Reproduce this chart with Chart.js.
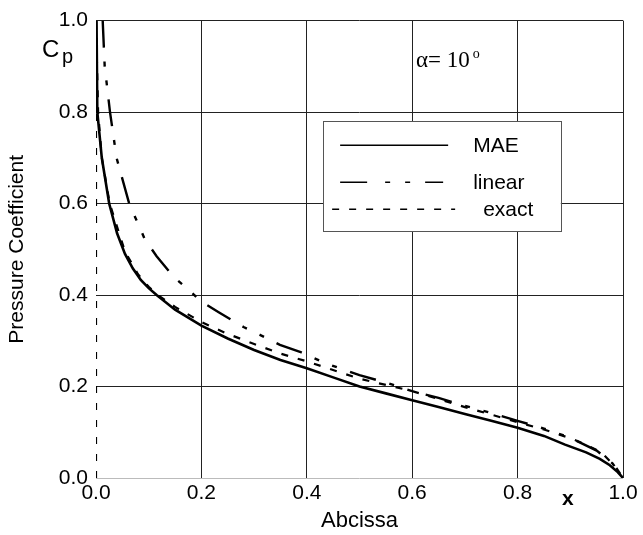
<!DOCTYPE html>
<html>
<head>
<meta charset="utf-8">
<script src="https://cdn.jsdelivr.net/npm/chart.js@4"></script>
<style>
html,body{margin:0;padding:0;background:#fff;}
#wrap{width:643px;height:535px;position:relative;}
</style>
</head>
<body>
<div id="wrap"><canvas id="c" width="643" height="535"></canvas></div>
<script>
// ---- data ----
const maeX = [0.001,0.0025,0.011,0.025,0.04,0.055,0.07,0.085,0.1,0.115,0.15,0.2,0.25,0.3,0.35,0.4,0.45,0.5,0.55,0.6,0.65,0.7,0.75,0.8,0.85,0.89,0.93,0.956,0.975,0.99,1.0];
const maeY = [1.0,0.8,0.7,0.6,0.535,0.49,0.458,0.433,0.415,0.4,0.368,0.333,0.305,0.28,0.258,0.24,0.22,0.2,0.185,0.17,0.155,0.14,0.125,0.11,0.092,0.073,0.056,0.042,0.028,0.013,0.0];

const linX = [0.0127,0.0165,0.0266,0.039,0.063,0.093,0.115,0.147,0.172,0.2,0.232,0.28,0.311,0.349,0.387,0.435,0.5,0.552,0.6,0.65,0.7,0.75,0.8,0.85,0.9,0.95,0.98,1.0];
const linY = [1.0,0.9,0.8,0.7,0.6,0.521,0.485,0.44,0.415,0.386,0.363,0.33,0.313,0.291,0.276,0.251,0.225,0.208,0.19,0.175,0.158,0.142,0.125,0.108,0.088,0.06,0.032,0.0];

const exX = [0.0,0.0,0.002,0.004,0.011,0.026,0.055,0.08,0.1,0.115,0.15,0.2,0.25,0.3,0.35,0.4,0.5,0.6,0.7,0.8,0.85,0.9,0.93,0.96,0.988,1.0];
const exY = [0.0,1.0,0.9,0.8,0.7,0.6,0.495,0.445,0.418,0.402,0.374,0.341,0.315,0.293,0.272,0.255,0.217,0.19,0.155,0.122,0.106,0.087,0.073,0.055,0.021,0.0];

const xTicks = [0.0,0.2,0.4,0.6,0.8,1.0];
const yTicks = [0.0,0.2,0.4,0.6,0.8,1.0];
const seriesNames = ['MAE','linear','exact'];

const toPts = (xs, ys) => xs.map((x, i) => ({x: x, y: ys[i]}));

const FONT = "'Liberation Sans', Arial, sans-serif";
const SERIF = "'Liberation Serif', 'Times New Roman', serif";

const dashLinear = [27,14,5,14,5,14];
const dashExact = [7,10];

const annot = {
  id: 'annot',
  afterDatasetsDraw(chart) {
    const ctx = chart.ctx;
    const xs = chart.scales.x, ys = chart.scales.y;
    ctx.save();
    // legend box
    const L = xs.getPixelForValue(0.431), R = xs.getPixelForValue(0.882);
    const T = ys.getPixelForValue(0.78), B = ys.getPixelForValue(0.54);
    ctx.fillStyle = '#fff';
    ctx.fillRect(L, T, R - L, B - T);
    ctx.strokeStyle = '#555';
    ctx.lineWidth = 1;
    ctx.strokeRect(Math.round(L) + 0.5, Math.round(T) + 0.5, Math.round(R - L), Math.round(B - T));
    const rows = [
      {y: T + 24, x0: L + 17, x1: L + 125, dash: [], label: seriesNames[0], tx: L + 150},
      {y: T + 61, x0: L + 17, x1: L + 120, dash: [27,18,5,15,5,15], label: seriesNames[1], tx: L + 150},
      {y: T + 88, x0: L + 9, x1: L + 132, dash: [7,10], label: seriesNames[2], tx: L + 160}
    ];
    ctx.strokeStyle = '#000';
    ctx.fillStyle = '#000';
    ctx.font = '21px ' + FONT;
    ctx.textBaseline = 'middle';
    ctx.textAlign = 'left';
    rows.forEach(r => {
      ctx.lineWidth = 1.6;
      ctx.setLineDash(r.dash);
      ctx.beginPath();
      ctx.moveTo(r.x0, r.y);
      ctx.lineTo(r.x1, r.y);
      ctx.stroke();
      ctx.setLineDash([]);
      ctx.fillText(r.label, r.tx, r.y + 1);
    });
    // Cp label
    ctx.textBaseline = 'alphabetic';
    ctx.font = '24px ' + FONT;
    ctx.fillText('C', 42, 57);
    ctx.font = '20px ' + FONT;
    ctx.fillText('p', 62, 63);
    // alpha label
    ctx.font = '23px ' + SERIF;
    const t = '\u03B1= 10';
    ctx.fillText(t, 416, 67);
    const w = ctx.measureText(t).width;
    ctx.font = '14px ' + SERIF;
    ctx.fillText('o', 416 + w + 3, 58);
    // x label
    ctx.font = 'bold 21px ' + FONT;
    ctx.fillText('x', 562, 505);
    ctx.restore();
  }
};

new Chart(document.getElementById('c'), {
  type: 'scatter',
  data: {
    datasets: [
      {label: seriesNames[0], data: toPts(maeX, maeY), showLine: true, borderColor: '#000', borderWidth: 2.6, pointRadius: 0, tension: 0, fill: false},
      {label: seriesNames[1], data: toPts(linX, linY), showLine: true, borderColor: '#000', borderWidth: 2.4, borderDash: dashLinear, pointRadius: 0, tension: 0, fill: false},
      {label: seriesNames[2], data: toPts(exX, exY), showLine: true, borderColor: '#000', borderWidth: 2.2, borderDash: dashExact, pointRadius: 0, tension: 0, fill: false}
    ]
  },
  options: {
    responsive: false,
    animation: false,
    layout: {padding: {top: 15, right: 20, left: 0, bottom: 0}},
    plugins: {legend: {display: false}, tooltip: {enabled: false}},
    scales: {
      x: {
        type: 'linear', min: 0, max: 1,
        afterFit: s => { s.height = 57; },
        afterBuildTicks: s => { s.ticks = xTicks.map(v => ({value: v})); },
        ticks: {color: '#000', font: {family: FONT, size: 21}, padding: 3, maxRotation: 0,
          callback: v => Number(v).toFixed(1)},
        grid: {drawTicks: false, lineWidth: 1,
          color: c => (c.tick && c.tick.value === 0) ? 'rgba(0,0,0,0)' : '#222'},
        border: {display: false},
        title: {display: true, text: 'Abcissa', color: '#000', font: {family: FONT, size: 22}, padding: {top: 0, bottom: 1}}
      },
      y: {
        type: 'linear', min: 0, max: 1,
        afterFit: s => { s.width = 96; },
        afterBuildTicks: s => { s.ticks = yTicks.map(v => ({value: v})); },
        ticks: {color: '#000', font: {family: FONT, size: 21}, padding: 8,
          callback: v => Number(v).toFixed(1)},
        grid: {drawTicks: false, lineWidth: 1,
          color: c => (c.tick && c.tick.value === 0) ? '#bbb' : '#222'},
        border: {display: false},
        title: {display: true, text: 'Pressure Coefficient', color: '#000', font: {family: FONT, size: 21}, padding: {top: 5, bottom: 0}}
      }
    }
  },
  plugins: [annot]
});
</script>
</body>
</html>
